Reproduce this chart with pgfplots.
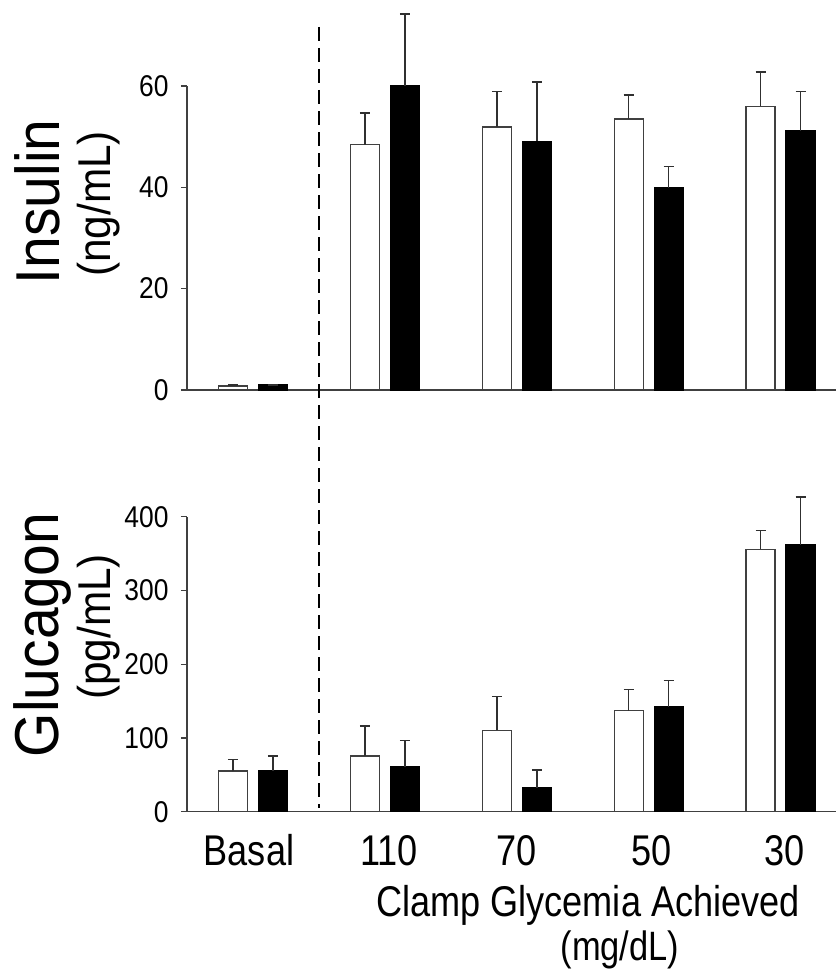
\documentclass[border=0pt]{standalone}
\usepackage{fontspec}
\setmainfont{Liberation Sans}[FakeStretch=0.9]
\newfontfamily\xfont{Liberation Sans}[FakeStretch=0.84]
\newfontfamily\tfont{Liberation Sans}[FakeStretch=0.88]
\newfontfamily\lfont{Liberation Sans}[FakeStretch=0.92]
\usepackage{pgfplots}
\pgfplotsset{compat=1.18}
\definecolor{axgray}{HTML}{404040}
\definecolor{errgray}{HTML}{303030}
\begin{document}
\begin{tikzpicture}
\useasboundingbox (-187pt,390pt) rectangle (649pt,-580pt);
\pgfplotsset{
  common/.style={
    scale only axis, width=649pt, xmin=-0.5, xmax=4.42, ymin=0,
    axis x line=bottom, axis y line=left,
    axis line style={-, line width=1.3pt, color=axgray},
    ybar, bar width=29pt, clip=false,
    tick align=outside, major tick length=6pt,
    ytick style={line width=1.3pt, color=axgray},
    xtick style={draw=none},
    yticklabel={\tfont\fontsize{30}{32}\selectfont\pgfmathprintnumber[assume math mode=true]{\tick}},
    yticklabel style={xshift=-9pt},
    xticklabel style={font=\xfont\fontsize{43}{46}\selectfont, anchor=base, yshift=-48pt},
    error bars/y dir=plus, error bars/y explicit,
    error bars/error mark=-,
    error bars/error bar style={line width=1.5pt, color=errgray},
    error bars/error mark options={rotate=90, line width=1.5pt, mark size=5pt, color=errgray},
  },
  wbar/.style={draw=axgray, fill=white, line width=1.3pt, bar shift=-20pt},
  kbar/.style={draw=black, fill=black, line width=1.3pt, bar shift=20pt},
}
% Insulin
\begin{axis}[common, at={(0pt,0pt)}, anchor=south west, height=304pt, ymax=60,
  ytick={0,20,40,60}, xtick=\empty]
\addplot[wbar] coordinates {(0,0.8) +- (0,0.2) (1,48.4) +- (0,6.3) (2,51.9) +- (0,7.0) (3,53.5) +- (0,4.7) (4,56.0) +- (0,6.8)};
\addplot[kbar] coordinates {(0,1.0) +- (0,0.0) (1,60.1) +- (0,14.1) (2,49.1) +- (0,11.7) (3,39.9) +- (0,4.2) (4,51.1) +- (0,7.8)};
\end{axis}
% Glucagon
\begin{axis}[common, at={(0pt,-421.7pt)}, anchor=south west, height=295pt, ymax=400,
  ytick={0,100,200,300,400},
  xtick={-0.03,0.03,0,0.02,0.03},
  xtick={-0.03,1.03,2,3.02,4.03},
  xticklabels={Basal,110,70,50,30}]
\addplot[wbar] coordinates {(0,55) +- (0,16) (1,75.5) +- (0,41) (2,110.4) +- (0,46) (3,137) +- (0,28.4) (4,355.8) +- (0,25.2)};
\addplot[kbar] coordinates {(0,55) +- (0,20.5) (1,61) +- (0,35.3) (2,32.6) +- (0,24) (3,142) +- (0,35.6) (4,361.6) +- (0,65.4)};
\end{axis}
\draw[color=black, line width=1.2pt, dash pattern=on 14pt off 7pt] (131.9pt,363pt) -- (131.9pt,-418pt);
\node[rotate=90, anchor=base, font=\lfont\fontsize{62}{66}\selectfont] at (-127pt,188pt) {Insulin};
\node[rotate=90, anchor=base, font=\lfont\fontsize{46}{50}\selectfont] at (-76pt,186pt) {(ng/mL)};
\node[rotate=90, anchor=base, font=\lfont\fontsize{62}{66}\selectfont] at (-128pt,-245pt) {Glucagon};
\node[rotate=90, anchor=base, font=\lfont\fontsize{46}{50}\selectfont] at (-76pt,-237pt) {(pg/mL)};
\node[anchor=base, font=\xfont\fontsize{43}{46}\selectfont] at (401pt,-526.7pt) {Clamp Glycemia Achieved};
\node[anchor=base, font=\xfont\fontsize{41}{44}\selectfont] at (433pt,-570pt) {(mg/dL)};
\end{tikzpicture}
\end{document}
